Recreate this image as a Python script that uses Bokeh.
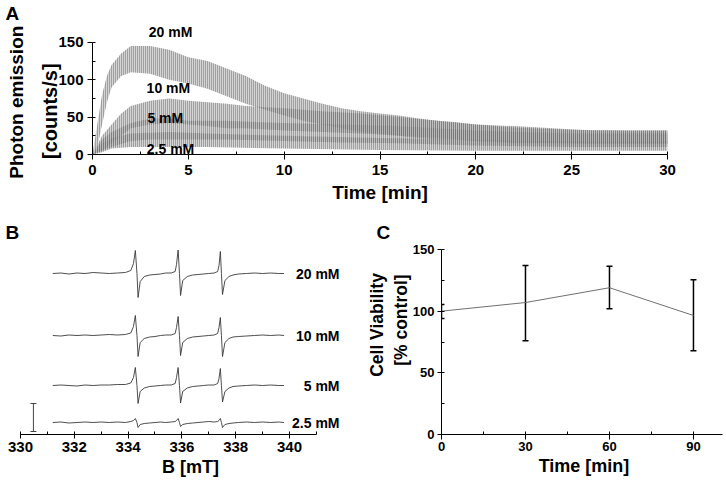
from bokeh.plotting import figure
from bokeh.models import (Range1d, SingleIntervalTicker, FixedTicker, Whisker,
                          ColumnDataSource, TeeHead, LinearAxis)
from bokeh.layouts import column, row
from bokeh.embed import file_html
from bokeh.resources import INLINE
from bokeh.core.properties import value

FONT = "Liberation Sans"
NB = "\u00a0"

# ---------------- Panel A: photon emission (noise envelope)
a_t20 = [0, 0.25, 0.5, 0.75, 1, 1.5, 2, 3, 4, 5, 6, 7, 8, 9, 10, 11, 12, 13, 14,
         15, 16, 17, 18, 19, 20, 22, 24, 26, 28, 30]
a_lo20 = [0, 10, 40, 70, 90, 105, 110, 108, 100, 95, 88, 78, 68, 60, 52, 45, 40,
          35, 30, 28, 25, 22, 20, 20, 18, 15, 15, 14, 14, 14]
a_hi20 = [0, 40, 80, 105, 120, 135, 145, 145, 140, 130, 125, 115, 105, 92, 82, 75,
          68, 62, 58, 55, 52, 48, 45, 43, 40, 38, 35, 32, 32, 32]

a_t10 = [0, 0.5, 1, 1.5, 2, 3, 4, 5, 6, 7, 8, 10, 12, 14, 16, 18, 20, 22, 25, 28, 30]
a_lo10 = [0, 5, 15, 25, 35, 40, 42, 40, 38, 35, 35, 32, 30, 28, 25, 22, 18, 16, 15, 15, 15]
a_hi10 = [0, 25, 40, 55, 65, 72, 75, 72, 70, 68, 65, 62, 58, 55, 50, 45, 40, 36, 33, 32, 32]

a_t5 = [0, 0.5, 1, 2, 3, 4, 5, 7, 10, 13, 16, 20, 25, 30]
a_lo5 = [0, 5, 10, 18, 20, 20, 20, 20, 18, 16, 15, 12, 10, 10]
a_hi5 = [0, 20, 30, 42, 48, 48, 45, 45, 42, 40, 38, 32, 28, 28]

a_t25 = [0, 0.5, 1, 2, 4, 6, 10, 15, 20, 25, 30]
a_lo25 = [0, 3, 8, 10, 10, 10, 8, 6, 5, 5, 5]
a_hi25 = [0, 15, 22, 28, 30, 28, 25, 22, 20, 18, 18]

a_labels = ["20 mM", "10 mM", "5 mM", "2.5 mM"]

# ---------------- Panel B: EPR spectra (relative amplitude)
b_field = [331.2, 331.5, 331.8, 332.1, 332.4, 332.7, 333.0, 333.3, 333.6, 333.9, 334.1,
           334.2, 334.27, 334.33, 334.37, 334.45, 334.6,
           334.8, 335.0, 335.2, 335.4, 335.6, 335.75,
           335.8, 335.86, 335.91, 335.95, 336.03, 336.2,
           336.4, 336.6, 336.8, 337.0, 337.2, 337.33,
           337.38, 337.43, 337.47, 337.51, 337.6, 337.75,
           337.9, 338.1, 338.4, 338.7, 339.0, 339.3, 339.6, 339.8]
b_20 = [0, 0.5, -0.5, 0.5, 0, 1, 0.5, 0, 0.5, 1, 3,
        10, 23, 0, -24, -8, -3,
        -1.5, -1, -0.5, 0.5, 0.5, 2,
        9, 23.5, 0, -22, -7, -3,
        -1.5, -1, -0.5, 0, 0.5, 2,
        8, 22, 0, -21, -7, -3,
        -1.5, -0.5, 0, 0.5, 0, 0.5, 0, 0]
b_10 = [0, -0.5, 0.5, 0, 0.5, 0, 0.5, 1, 0.5, 1, 2.5,
        9, 20, 0, -21, -7, -3,
        -1.5, -1, 0, 0.5, 0.5, 2,
        8, 19, 0, -20, -7, -3,
        -1.5, -1, -0.5, 0, 0.5, 2,
        8, 18, 0, -21, -7, -3,
        -1.5, -1, -0.5, 0, 0.5, 0, 0.5, 0]
b_5 = [0, 0.5, 0, -0.5, 0.5, 0, 0.5, 0.5, 1, 1, 2.5,
       8, 18, 0, -18, -6, -2.5,
       -1, -0.5, 0, 0.5, 0.5, 2,
       8, 18, 0, -17.5, -6, -2.5,
       -1, -0.5, 0, 0.5, 0.5, 2,
       7, 17, 0, -16.5, -6, -2.5,
       -1, -0.5, 0, 0.5, 0, 0.5, 0, 0]
b_25 = [0, 0.5, -0.5, 0, 0.5, 0, 0.5, 0, 0.5, 0, 1,
        2, 4, 0, -5, -2, -1,
        -0.5, 0, 0.5, 0, 0.5, 1,
        2, 4, 0, -4, -2, -1,
        -0.5, 0, 0.5, 1, 0.5, 1,
        2, 4, 0, -5, -2, -1,
        -0.5, 0, 0.5, 0, 0.5, 0, 0.5, 0]
b_labels = ["20 mM", "10 mM", "5 mM", "2.5 mM"]
b_scale_lo = [3]
b_scale_hi = [31]

# ---------------- Panel C: cell viability
c_time = [0, 30, 60, 90]
c_mean = [100, 107, 119, 96.5]
c_lo = [94, 76, 102, 68]
c_hi = [105.5, 137, 136.5, 125.5]


def base_fig(**kw):
    p = figure(output_backend="svg", toolbar_location=None, min_border=0, **kw)
    p.grid.visible = False
    p.outline_line_color = None
    p.background_fill_color = "white"
    p.border_fill_color = "white"
    return p


def style_axis(ax, size, standoff, tick_out=5, label=None, label_size=18, label_standoff=0):
    ax.axis_line_color = "black"
    ax.axis_line_width = 1
    ax.major_tick_line_color = "black"
    ax.minor_tick_line_color = "black"
    ax.major_tick_out = tick_out
    ax.major_tick_in = 0
    ax.minor_tick_out = 0
    ax.minor_tick_in = 3
    ax.major_label_standoff = standoff
    ax.major_label_text_font = FONT
    ax.major_label_text_font_style = "bold"
    ax.major_label_text_font_size = f"{size}px"
    ax.major_label_text_color = "black"
    if label is not None:
        ax.axis_label = label
        ax.axis_label_text_font = FONT
        ax.axis_label_text_font_style = "bold"
        ax.axis_label_text_font_size = f"{label_size}px"
        ax.axis_label_text_color = "black"
        ax.axis_label_standoff = label_standoff


def label_axis(p, text, size, standoff):
    """An axis without line or ticks that only carries one line of the y title."""
    ax = LinearAxis(ticker=FixedTicker(ticks=[]), axis_label=text,
                    axis_line_color=None, major_tick_line_color=None,
                    minor_tick_line_color=None, major_tick_in=0, major_tick_out=0,
                    minor_tick_in=0, minor_tick_out=0, major_label_standoff=0,
                    major_label_text_font_size="0px",
                    axis_label_standoff=standoff, axis_label_text_font=FONT,
                    axis_label_text_font_style="bold",
                    axis_label_text_font_size=f"{size}px",
                    axis_label_text_color="black")
    p.add_layout(ax, "left")


def style_title(p, offset, standoff):
    p.title.align = "left"
    p.title.offset = offset
    p.title.standoff = standoff
    p.title.text_font = FONT
    p.title.text_font_style = "bold"
    p.title.text_font_size = "19px"
    p.title.text_color = "black"


# ======== Panel A
pA = base_fig(width=726, height=208, title="A",
              x_range=Range1d(0, 30), y_range=Range1d(0, 175.2),
              min_border_left=92, min_border_right=59, min_border_top=22,
              min_border_bottom=54)
style_title(pA, -87, 0)
pA.xaxis.ticker = SingleIntervalTicker(interval=5, num_minor_ticks=2)
pA.yaxis.ticker = SingleIntervalTicker(interval=50, num_minor_ticks=2)
pA.yaxis.bounds = (0, 150)
style_axis(pA.xaxis[0], 15, 5, 5, "Time [min]", 19, 4)
style_axis(pA.yaxis[0], 15, 4, 5)
# trailing no-break spaces move each rotated title line down to where it sits in the original
label_axis(pA, "[counts/s]" + NB * 8, 20, -5)
label_axis(pA, "Photon emission" + NB * 5, 19, 9)

for t, lo, hi in [(a_t20, a_lo20, a_hi20), (a_t10, a_lo10, a_hi10),
                  (a_t5, a_lo5, a_hi5), (a_t25, a_lo25, a_hi25)]:
    pA.varea(x=t, y1=lo, y2=hi, fill_color="#b0b0b0", fill_alpha=0.55,
             hatch_pattern="vertical_line", hatch_color="#1a1a1a",
             hatch_scale=2, hatch_weight=0.7, hatch_alpha=0.8)

pA.text(x=[4.07, 3.96, 3.8, 4.07], y=[164, 89, 49, 8], text=a_labels,
        text_font=value(FONT), text_font_style="bold", text_font_size="14px",
        text_align="center", text_baseline="middle", text_color="black")

# ======== Panel B
pB = base_fig(width=360, height=277, title="B",
              x_range=Range1d(330, 342.64), y_range=Range1d(0, 185),
              min_border_left=20, min_border_right=0, min_border_top=41,
              min_border_bottom=51, y_axis_location=None)
style_title(pB, -15, 14)
pB.xaxis.ticker = SingleIntervalTicker(interval=2, num_minor_ticks=2)
pB.xaxis.bounds = (330, 341)
style_axis(pB.xaxis[0], 15, 3, 4, "B [mT]", 18, 2)

b_offsets = [161, 99, 49, 12]
for spec, off in zip([b_20, b_10, b_5, b_25], b_offsets):
    pB.line(x=b_field, y=[v + off for v in spec], line_color="#3a3a3a", line_width=0.9)

pB.text(x=[341.86] * 4, y=b_offsets, text=b_labels,
        text_font=value(FONT), text_font_style="bold", text_font_size="14px",
        text_align="right", text_baseline="middle", text_color="black")

scale_src = ColumnDataSource(dict(x=[330.48], lo=b_scale_lo, hi=b_scale_hi))
pB.add_layout(Whisker(source=scale_src, base="x", lower="lo", upper="hi",
                      dimension="height", line_color="#444444", line_width=1,
                      upper_head=TeeHead(size=6, line_color="#444444", line_width=1),
                      lower_head=TeeHead(size=6, line_color="#444444", line_width=1)))

# ======== Panel C
pC = base_fig(width=366, height=277, title="C",
              x_range=Range1d(0, 101.8), y_range=Range1d(0, 150),
              min_border_left=81, min_border_right=0, min_border_top=41,
              min_border_bottom=51)
style_title(pC, -65, 14)
pC.xaxis.ticker = SingleIntervalTicker(interval=30, num_minor_ticks=2)
pC.xaxis.bounds = (0, 100.4)
pC.yaxis.ticker = SingleIntervalTicker(interval=50, num_minor_ticks=2)
style_axis(pC.xaxis[0], 13, 2, 5, "Time [min]", 18, 2)
style_axis(pC.yaxis[0], 13, 3, 4)
# leading no-break spaces move each rotated title line up to where it sits in the original
label_axis(pC, NB * 9 + "[% control]", 17.5, -1)
label_axis(pC, NB * 7 + "Cell Viability", 17.5, 1)

pC.line(x=c_time, y=c_mean, line_color="#707070", line_width=1)
err_src = ColumnDataSource(dict(t=c_time, lo=c_lo, hi=c_hi))
pC.add_layout(Whisker(source=err_src, base="t", lower="lo", upper="hi",
                      dimension="height", line_color="black", line_width=1.5,
                      upper_head=TeeHead(size=6, line_color="black", line_width=1.5),
                      lower_head=TeeHead(size=6, line_color="black", line_width=1.5)))

layout = column(pA, row(pB, pC))
open("out.html", "w").write(file_html(layout, INLINE))
